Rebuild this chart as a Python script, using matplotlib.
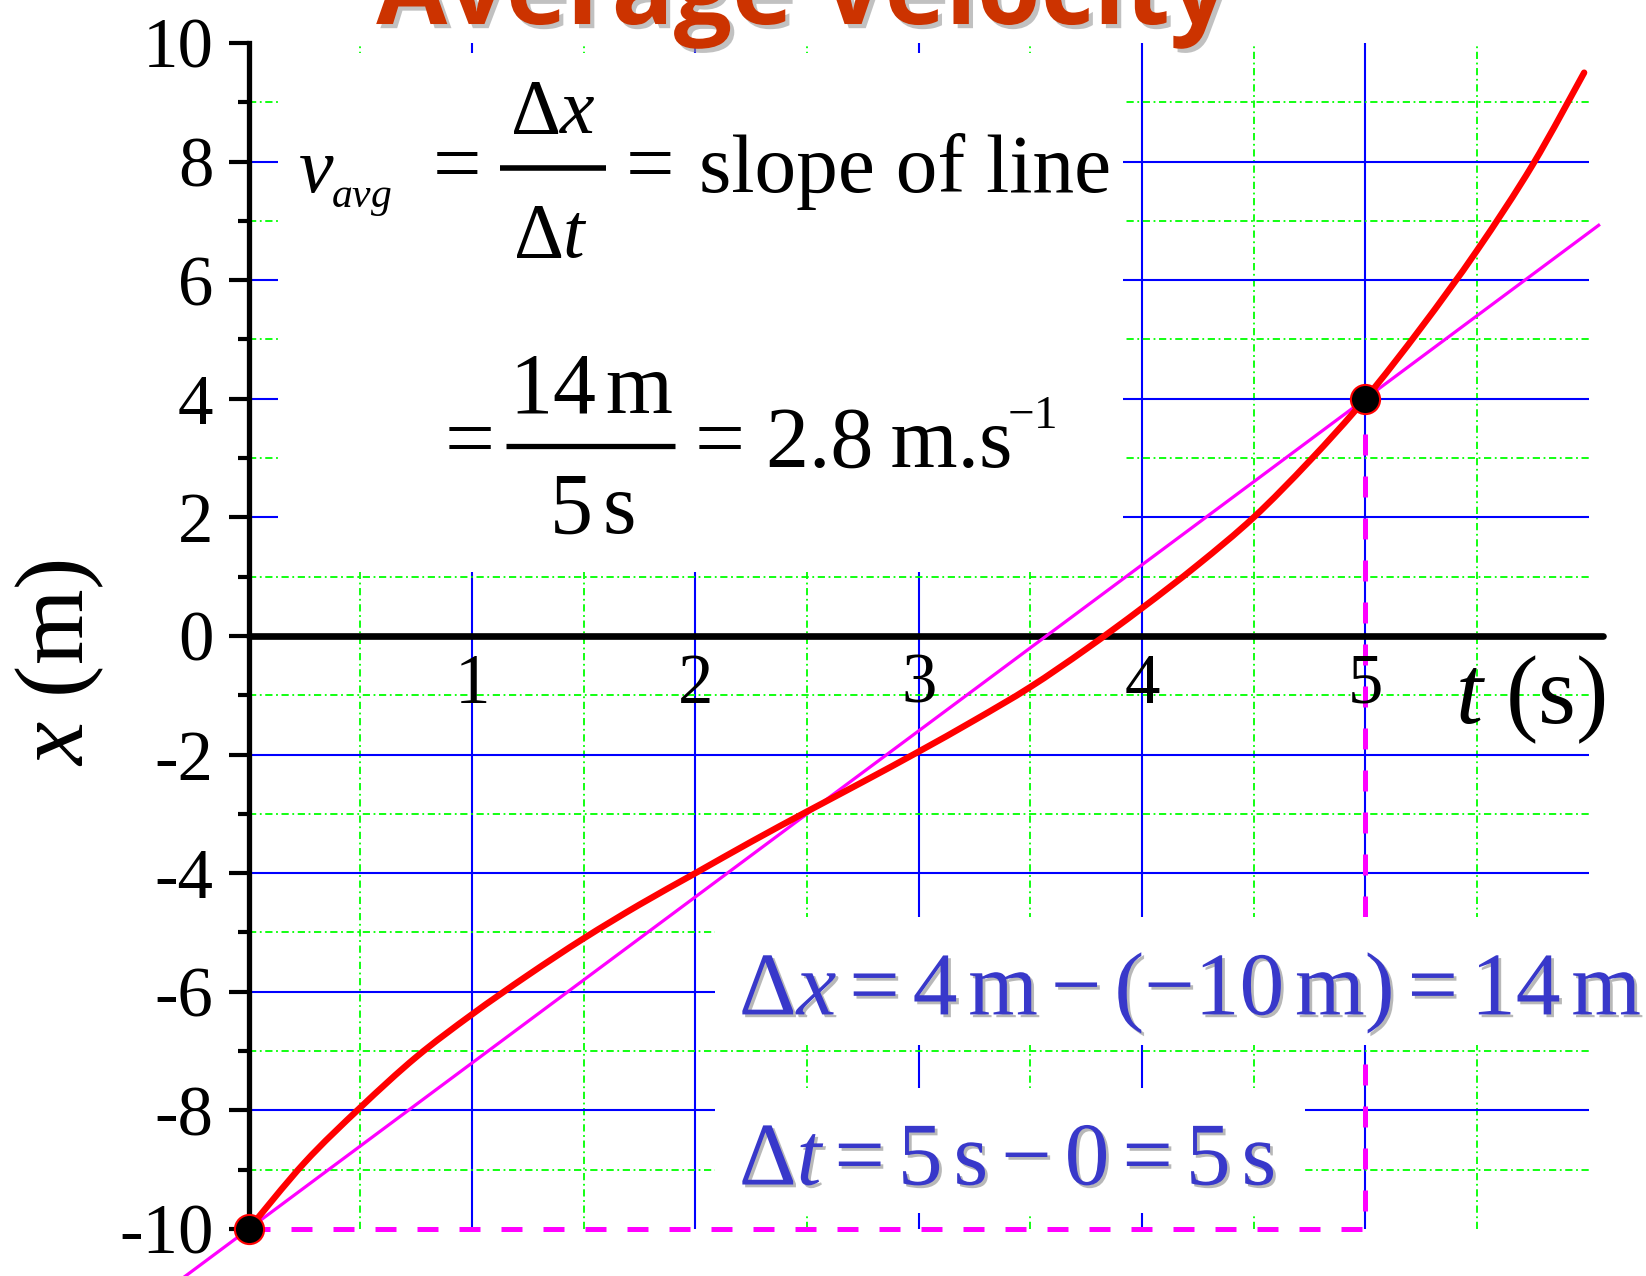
import matplotlib
matplotlib.use("Agg")
import matplotlib.pyplot as plt
import matplotlib.patheffects as pe
from matplotlib.patches import Rectangle, PathPatch
from matplotlib.path import Path
import numpy as np

# ---- data -------------------------------------------------------------
# position of the object x (m) versus time t (s)
t_curve = [0.0, 0.25, 0.5, 0.75, 1.0, 1.25, 1.5, 1.75, 2.0, 2.25, 2.5, 2.75,
           3.0, 3.25, 3.5, 3.75, 4.0, 4.25, 4.5, 4.75, 5.0, 5.25, 5.5, 5.75, 5.98]
x_curve = [-10.0, -8.88, -7.95, -7.1, -6.38, -5.72, -5.1, -4.53, -4.0, -3.47,
           -2.96, -2.46, -1.95, -1.42, -0.86, -0.22, 0.47, 1.2, 2.0, 2.95, 4.0,
           5.2, 6.5, 7.95, 9.5]

# the two end points of the interval
t_start, x_start = 0.0, -10.0
t_end, x_end = 5.0, 4.0
slope = (x_end - x_start) / (t_end - t_start)   # 2.8 m/s
secant_t = [-0.3, 6.045]

y_major = [10, 8, 6, 4, 2, 0, -2, -4, -6, -8, -10]
y_major_labels = ["10", "8", "6", "4", "2", "0", "-2", "-4", "-6", "-8", "-10"]
y_minor = [9, 7, 5, 3, 1, -1, -3, -5, -7, -9]
x_major = [1, 2, 3, 4, 5]
x_major_labels = ["1", "2", "3", "4", "5"]
x_minor = [0.5, 1.5, 2.5, 3.5, 4.5, 5.5]
grid_h_major = [-8, -6, -4, -2, 2, 4, 6, 8]

# ---- style ------------------------------------------------------------
plt.rcParams["font.family"] = ["Liberation Serif", "DejaVu Serif"]
plt.rcParams["mathtext.fontset"] = "custom"
plt.rcParams["mathtext.rm"] = "Liberation Serif"
plt.rcParams["mathtext.it"] = "Liberation Serif:italic"
plt.rcParams["mathtext.bf"] = "Liberation Serif:bold"

BLUE = "#0000FF"
GREEN = "#00FF00"
MAGENTA = "#FF00FF"
TEXT_BLUE = "#3838CA"
TITLE_RED = "#CC3300"

fig = plt.figure(figsize=(16.46, 12.76), dpi=100)
ax = fig.add_axes([0, 0, 1, 1])
ax.set_xlim(-1.114, 6.257)
ax.set_ylim(-10.793, 10.725)

# ---- grid -------------------------------------------------------------
green_ls = (0, (4, 2, 1, 2))
ax.vlines(x_major, -10, 10, colors=BLUE, lw=1.5, zorder=1)
ax.vlines(x_minor, -10, 10, colors=GREEN, lw=1.3, linestyles=[green_ls], zorder=1)
ax.hlines(grid_h_major, 0, 6, colors=BLUE, lw=1.5, zorder=1)
ax.hlines(y_minor, 0, 6, colors=GREEN, lw=1.3, linestyles=[green_ls], zorder=1)

# dashed guides for Δt and Δx
ax.plot([t_start, t_end, t_end], [x_start, x_start, x_end], color=MAGENTA,
        lw=3.6, ls=(0, (4.2, 4.2)), zorder=1.2)

# white panels behind the formulas
for (x0, y0, x1, y1) in [(0.13, 1.08, 3.915, 9.83),
                         (2.087, -6.9, 6.3, -4.74),
                         (2.087, -9.73, 4.73, -7.62)]:
    ax.add_patch(Rectangle((x0, y0), x1 - x0, y1 - y0, fc="white", ec="none",
                           zorder=1.5))

# ---- axes -------------------------------------------------------------
for s in ("top", "right"):
    ax.spines[s].set_visible(False)
ax.spines["left"].set_position(("data", 0))
ax.spines["left"].set_bounds(-10, 10)
ax.spines["left"].set_linewidth(3.8)
ax.spines["bottom"].set_position(("data", 0))
ax.spines["bottom"].set_bounds(0, 6.065)
ax.spines["bottom"].set_linewidth(4.8)
ax.spines["bottom"].set_capstyle("round")
ax.spines["bottom"].set_zorder(2.5)

ax.set_yticks(y_major)
ax.set_yticklabels(y_major_labels, fontsize=51)
ax.set_yticks(y_minor, minor=True)
ax.tick_params(axis="y", which="major", direction="out", length=14.4, width=3,
               pad=11)
ax.tick_params(axis="y", which="minor", direction="out", length=8, width=3)
ax.set_xticks(x_major)
ax.set_xticklabels(x_major_labels, fontsize=51)
ax.tick_params(axis="x", which="both", length=0, pad=12)

ax.text(-0.743, -0.455, r"$x$ (m)", fontsize=70, rotation=90,
        rotation_mode="anchor", ha="center", va="baseline")
ax.text(5.40, -1.467, r"$t\ (\mathrm{s})$", fontsize=70, ha="left", va="baseline")

# ---- curves -----------------------------------------------------------
ax.plot(secant_t, [x_start + slope * (t - t_start) for t in secant_t],
        color=MAGENTA, lw=2.3, zorder=3)

# position curve: smooth cubic segments through the measured points
pts = np.column_stack([t_curve, x_curve])
verts, codes = [pts[0]], [Path.MOVETO]
for i in range(len(pts) - 1):
    p0 = pts[i - 1] if i > 0 else pts[i]
    p1, p2 = pts[i], pts[i + 1]
    p3 = pts[i + 2] if i + 2 < len(pts) else pts[i + 1]
    verts += [p1 + (p2 - p0) / 6, p2 - (p3 - p1) / 6, p2]
    codes += [Path.CURVE4] * 3
ax.add_patch(PathPatch(Path(verts, codes), fc="none", ec="red", lw=4.6,
                       zorder=4, capstyle="round", joinstyle="round"))

ax.plot([t_start, t_end], [x_start, x_end], "o", ms=21, mfc="black",
        mec="red", mew=1.5, zorder=6)

# ---- formulas ---------------------------------------------------------
def put(x, y, s, size, ha="left", **kw):
    return ax.text(x, y, s, fontsize=size, ha=ha, va="baseline", zorder=7, **kw)

put(0.219, 7.487, r"$v$", 56)
put(0.368, 7.24, r"$avg$", 30)
put(0.935, 7.487, "=", 62, ha="center")
put(1.362, 8.482, r"$\Delta x$", 56, ha="center")
put(1.351, 6.391, r"$\Delta t$", 56, ha="center")
ax.plot([1.124, 1.598], [7.892, 7.892], color="black", lw=4, zorder=7,
        solid_capstyle="butt")
put(1.797, 7.487, "=", 62, ha="center")
put(2.015, 7.487, "slope of line", 60)

put(0.991, 2.855, "=", 64, ha="center")
ax.plot([1.152, 1.909], [3.204, 3.204], color="black", lw=3.8, zorder=7,
        solid_capstyle="butt")
put(1.533, 3.777, r"$14\,\mathrm{m}$", 62, ha="center")
put(1.537, 1.737, r"$5\,\mathrm{s}$", 62, ha="center")
put(2.111, 2.855, "=", 64, ha="center")
put(2.316, 2.855, "%.1f\u2009m.s" % slope, 62)
put(3.395, 3.51, r"$-1$", 34)

shadow = [pe.withSimplePatchShadow(offset=(2, -2), shadow_rgbFace="#8a8a8a",
                                   alpha=0.6)]
dx = x_end - x_start
dt = t_end - t_start
put(2.195, -6.391,
    r"$\Delta x = %g\,\mathrm{m} - (-%g\,\mathrm{m}) = %g\,\mathrm{m}$"
    % (x_end, -x_start, dx), 64.5, color=TEXT_BLUE, path_effects=shadow)
put(2.195, -9.258,
    r"$\Delta t = %g\,\mathrm{s} - %g = %g\,\mathrm{s}$" % (t_end, t_start, dt),
    64.5, color=TEXT_BLUE, path_effects=shadow)

# ---- title (runs off the top edge) ------------------------------------
title = ax.text(2.478, 10.32, "Average Velocity", fontsize=80,
                family="Open Sans", weight="bold", color=TITLE_RED,
                ha="center", va="baseline", zorder=8,
                path_effects=[pe.withSimplePatchShadow(offset=(3, -3),
                              shadow_rgbFace="#999999", alpha=0.6)])
fig.canvas.draw()
w = title.get_window_extent().width
title.set_fontsize(80 * 852 / w)

fig.savefig("out.png", dpi=100)
